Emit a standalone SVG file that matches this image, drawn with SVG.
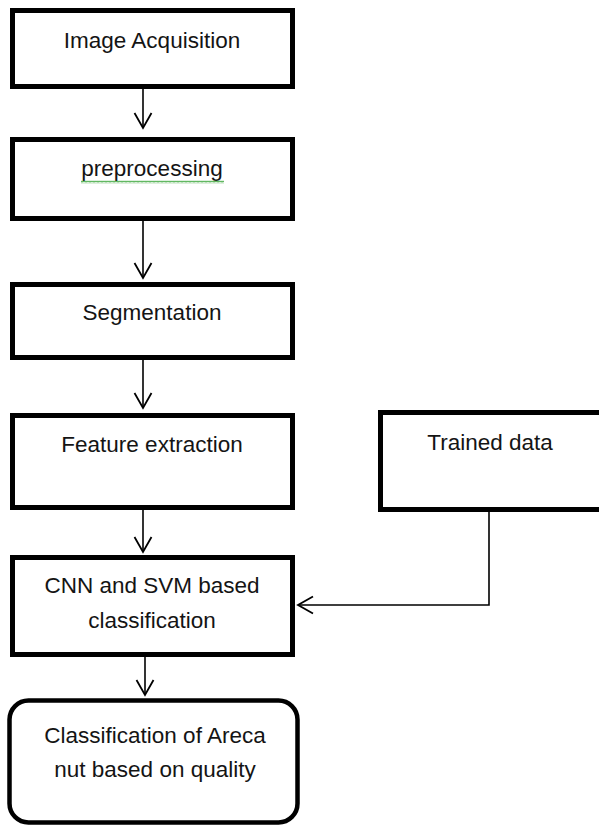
<svg xmlns="http://www.w3.org/2000/svg" width="599" height="827" viewBox="0 0 599 827">
  <style>
    .box { fill: #fff; stroke: #000; stroke-width: 5; }
    .end { fill: #fff; stroke: #000; stroke-width: 4.5; }
    .lbl { font-family: "Liberation Sans", Arial, sans-serif; font-size: 22.5px; fill: #141414; text-anchor: middle; }
    .wire { fill: none; stroke: #000; stroke-width: 1.6; marker-end: url(#open); }
  </style>
  <defs>
    <marker id="open" markerUnits="userSpaceOnUse" viewBox="-17 -11 19 22" refX="0" refY="0" markerWidth="19" markerHeight="22" orient="auto" overflow="visible">
      <path d="M-15,-8.5 L0,0 L-15,8.5" fill="none" stroke="#000" stroke-width="1.8"/>
    </marker>
    <pattern id="squiggle" patternUnits="userSpaceOnUse" width="4" height="3">
      <path d="M0,2.5 L1,0.5 L2,2.5 L3,0.5 L4,2.5" fill="none" stroke="#3aa63a" stroke-width="0.8"/>
    </pattern>
  </defs>
  <rect width="599" height="827" fill="#fff"/>

  <g id="connectors">
    <path class="wire" d="M143,89 V128"/>
    <path class="wire" d="M143,221 V278"/>
    <path class="wire" d="M143,360 V408"/>
    <path class="wire" d="M143,510 V552"/>
    <path class="wire" d="M145,657 V695"/>
    <path class="wire" d="M489,512 V605 H298"/>
  </g>

  <g id="acquisition">
    <rect class="box" x="12.5" y="10.5" width="280" height="76"/>
    <text class="lbl" x="152" y="48">Image Acquisition</text>
  </g>

  <g id="preprocessing">
    <rect class="box" x="12.5" y="139.5" width="280" height="79"/>
    <text class="lbl" x="152" y="176">preprocessing</text>
    <rect x="81" y="180.5" width="143" height="3" fill="url(#squiggle)"/>
  </g>

  <g id="segmentation">
    <rect class="box" x="12.5" y="284.5" width="280" height="73"/>
    <text class="lbl" x="152" y="320">Segmentation</text>
  </g>

  <g id="features">
    <rect class="box" x="12.5" y="415.5" width="280" height="92"/>
    <text class="lbl" x="152" y="452">Feature extraction</text>
  </g>

  <g id="classifier">
    <rect class="box" x="12.5" y="557.5" width="280" height="97"/>
    <text class="lbl" x="152" y="593">CNN and SVM based</text>
    <text class="lbl" x="152" y="628">classification</text>
  </g>

  <g id="result">
    <rect class="end" x="9.5" y="700.5" width="288" height="122" rx="19" ry="19"/>
    <text class="lbl" x="155" y="743">Classification of Areca</text>
    <text class="lbl" x="155" y="777">nut based on quality</text>
  </g>

  <g id="trained">
    <rect class="box" x="380.5" y="412.5" width="230" height="97"/>
    <text class="lbl" x="490" y="450">Trained data</text>
  </g>
</svg>
